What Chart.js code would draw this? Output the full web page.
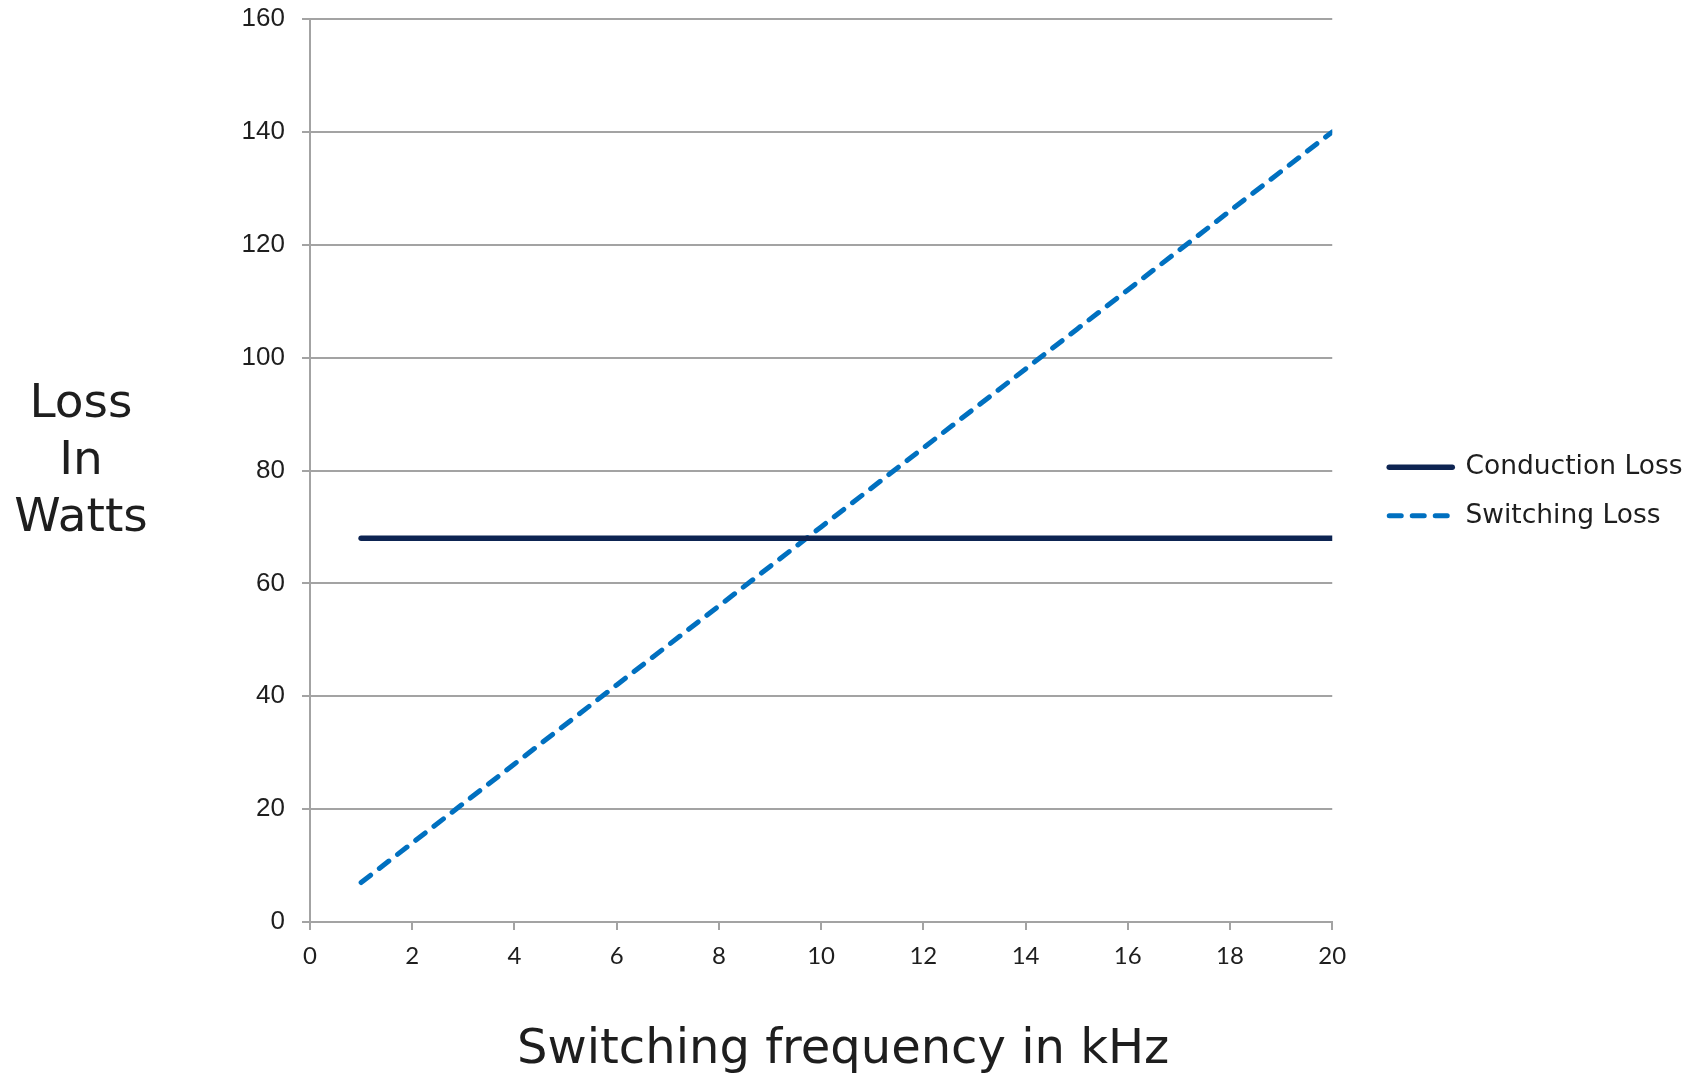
<!DOCTYPE html>
<html>
<head>
<meta charset="utf-8">
<style>
  html, body { margin: 0; padding: 0; background: #ffffff; }
  #wrap { width: 1697px; height: 1073px; }
</style>
<script src="https://cdn.jsdelivr.net/npm/chart.js@4.4.1/dist/chart.umd.min.js"></script>
</head>
<body>
<div id="wrap"><canvas id="lossChart" width="1697" height="1073"></canvas></div>
<script>
// Switching frequency (kHz) at which each loss is evaluated
const frequencies = [1, 2, 3, 4, 5, 6, 7, 8, 9, 10, 11, 12, 13, 14, 15, 16, 17, 18, 19, 20];
// Conduction loss (W) — independent of switching frequency
const conductionLoss = [68, 68, 68, 68, 68, 68, 68, 68, 68, 68, 68, 68, 68, 68, 68, 68, 68, 68, 68, 68];
// Switching loss (W) — grows with every switching event
const switchingLoss = [7, 14, 21, 28, 35, 42, 49, 56, 63, 70, 77, 84, 91, 98, 105, 112, 119, 126, 133, 140];

const xTickValues = [0, 2, 4, 6, 8, 10, 12, 14, 16, 18, 20];
const yTickValues = [0, 20, 40, 60, 80, 100, 120, 140, 160];

const seriesNames = ['Conduction Loss', 'Switching Loss'];
const xTitle = 'Switching frequency in kHz';
const yTitleLines = ['Loss', 'In', 'Watts'];

const gridColor = '#a3a3a3';
const textColor = '#1e1e1e';

const toPoints = (ys) => ys.map((y, i) => ({ x: frequencies[i], y }));

// Axis titles are drawn horizontally (the y title is stacked on three lines)
const axisTitles = {
  id: 'axisTitles',
  afterDraw(chart) {
    const { ctx, chartArea: ca } = chart;
    ctx.save();
    ctx.fillStyle = textColor;
    ctx.textAlign = 'center';
    ctx.textBaseline = 'alphabetic';
    ctx.font = '47px "DejaVu Sans"';
    const midY = (ca.top + ca.bottom) / 2;
    yTitleLines.forEach((t, i) => ctx.fillText(t, 81, midY - 54 + i * 57.3));
    ctx.font = '48px "DejaVu Sans"';
    ctx.fillText(xTitle, (ca.left + ca.right) / 2 + 22, chart.height - 10);
    ctx.restore();
  }
};

// Places the legend block to the right of the plot, just below its middle
const legendPlacement = {
  id: 'legendPlacement',
  afterLayout(chart) {
    const lg = chart.legend;
    if (!lg || !lg.columnSizes || !lg.columnSizes.length) return;
    const ca = chart.chartArea;
    const pad = lg.options.labels.padding;
    const colH = lg.columnSizes[0].height;
    const left = ca.right + 57 - pad;
    lg.right = left + lg.width;
    lg.left = left;
    const current = (lg.top + pad + lg.bottom - colH) / 2;
    const wanted = ca.top + 435;
    const dy = wanted - current;
    lg.top += dy;
    lg.bottom += dy;
  }
};

// Legend swatches use the line style of each dataset (width, dash, cap)
const lineSwatches = (chart) => chart.data.datasets.map((ds, i) => ({
  text: ds.label,
  fillStyle: ds.borderColor,
  strokeStyle: ds.borderColor,
  lineWidth: ds.borderWidth,
  lineDash: ds.borderDash || [],
  lineCap: ds.borderCapStyle,
  pointStyle: 'line',
  fontColor: textColor,
  hidden: !chart.isDatasetVisible(i),
  datasetIndex: i
}));

new Chart(document.getElementById('lossChart'), {
  type: 'line',
  data: {
    datasets: [
      {
        label: seriesNames[0],
        data: toPoints(conductionLoss),
        borderColor: '#0d2452',
        backgroundColor: '#0d2452',
        borderWidth: 5.5,
        borderCapStyle: 'round',
        pointRadius: 0,
        tension: 0
      },
      {
        label: seriesNames[1],
        data: toPoints(switchingLoss),
        borderColor: '#0070c0',
        backgroundColor: '#0070c0',
        borderWidth: 5,
        borderDash: [12, 11],
        borderCapStyle: 'round',
        pointRadius: 0,
        tension: 0
      }
    ]
  },
  options: {
    responsive: false,
    animation: false,
    layout: { padding: { top: 19, right: 39.5, bottom: 0, left: 0 } },
    plugins: {
      tooltip: { enabled: false },
      legend: {
        position: 'right',
        align: 'center',
        labels: {
          usePointStyle: true,
          pointStyle: 'line',
          pointStyleWidth: 63,
          padding: 22,
          color: textColor,
          font: { family: '"DejaVu Sans"', size: 26.5 },
          generateLabels: lineSwatches
        }
      }
    },
    scales: {
      x: {
        type: 'linear',
        min: 0,
        max: 20,
        afterBuildTicks: (s) => { s.ticks = xTickValues.map(v => ({ value: v })); },
        afterFit: (s) => { s.height = 151; },
        grid: { display: true, drawOnChartArea: false, drawTicks: true, tickLength: 8, color: gridColor, lineWidth: 2 },
        border: { display: true, color: gridColor, width: 2 },
        ticks: {
          autoSkip: false,
          maxRotation: 0,
          padding: 12,
          color: textColor,
          font: { family: 'Lato', size: 24 }
        }
      },
      y: {
        type: 'linear',
        min: 0,
        max: 160,
        afterBuildTicks: (s) => { s.ticks = yTickValues.map(v => ({ value: v })); },
        afterFit: (s) => { s.width = 310; s.paddingTop = 0; s.paddingBottom = 0; },
        grid: { color: gridColor, lineWidth: 2, tickLength: 8 },
        border: { display: true, color: gridColor, width: 2 },
        ticks: {
          padding: 17,
          color: textColor,
          font: { family: '"Liberation Sans"', size: 26 }
        }
      }
    }
  },
  plugins: [axisTitles, legendPlacement]
});
</script>
</body>
</html>
